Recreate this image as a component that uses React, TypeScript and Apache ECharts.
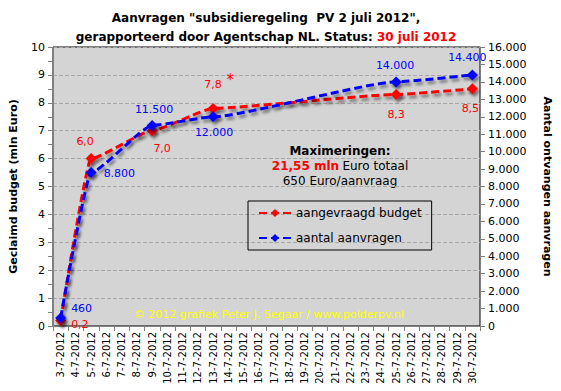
import React, { useEffect, useRef } from 'react';
import * as echarts from 'echarts';

const categories = [
  '3-7-2012', '4-7-2012', '5-7-2012', '6-7-2012', '7-7-2012', '8-7-2012', '9-7-2012',
  '10-7-2012', '11-7-2012', '12-7-2012', '13-7-2012', '14-7-2012', '15-7-2012', '16-7-2012',
  '17-7-2012', '18-7-2012', '19-7-2012', '20-7-2012', '21-7-2012', '22-7-2012', '23-7-2012',
  '24-7-2012', '25-7-2012', '26-7-2012', '27-7-2012', '28-7-2012', '29-7-2012', '30-7-2012',
];
const reportDates = ['3-7-2012', '5-7-2012', '9-7-2012', '13-7-2012', '25-7-2012', '30-7-2012'];
const budgetValues = [0.2, 6.0, 7.0, 7.8, 8.3, 8.5];
const requestValues = [460, 8800, 11500, 12000, 14000, 14400];
const seriesNames = ['aangevraagd budget', 'aantal aanvragen'];

const budgetLabelPlacement: any[] = [
  { position: 'right', offset: [0, 4] },
  { position: 'top', offset: [-6, -1] },
  { position: 'bottom', offset: [10, 2] },
  { position: 'top', offset: [6, -2] },
  { position: 'bottom', offset: [0, 4] },
  { position: 'bottom', offset: [-2, 4] },
];
const requestLabelPlacement: any[] = [
  { position: 'right', offset: [0, -9] },
  { position: 'right', offset: [2, 1] },
  { position: 'top', offset: [2, 0] },
  { position: 'bottom', offset: [1, 0] },
  { position: 'top', offset: [-1, 0] },
  { position: 'top', offset: [-5, -1] },
];

const fmtBudget = (v: number) => v.toFixed(1).replace('.', ',');
const fmtCount = (v: number) => String(Math.round(v)).replace(/\B(?=(\d{3})+(?!\d))/g, '.');

const FONT = 'DejaVu Sans';

export default function App() {
  const ref = useRef<HTMLDivElement>(null);
  useEffect(() => {
    if (!ref.current) return;
    const chart = echarts.init(ref.current, undefined, { renderer: 'svg' });

    const shadow = {
      shadowColor: 'rgba(0,0,0,0.45)',
      shadowBlur: 3,
      shadowOffsetX: 2,
      shadowOffsetY: 3,
    };

    const budgetData = reportDates.map((d, i) => ({
      value: [d, budgetValues[i]],
      label: {
        ...budgetLabelPlacement[i],
        formatter:
          i === 3
            ? fmtBudget(budgetValues[i]) + '{star| *}'
            : fmtBudget(budgetValues[i]),
      },
    }));
    const requestData = reportDates.map((d, i) => ({
      value: [d, requestValues[i]],
      label: { ...requestLabelPlacement[i], formatter: fmtCount(requestValues[i]) },
    }));

    const option: any = {
      animation: false,
      backgroundColor: '#ffffff',
      textStyle: { fontFamily: FONT },
      grid: {
        left: 46,
        right: 74,
        top: 47,
        bottom: 65,
        show: true,
        backgroundColor: '#d4d4d4',
        borderColor: '#000000',
        borderWidth: 1,
      },
      legend: {
        orient: 'vertical',
        left: 248,
        top: 201,
        padding: [6, 10, 6, 10],
        itemGap: 13,
        itemWidth: 32,
        itemHeight: 10,
        borderColor: '#000000',
        borderWidth: 1,
        backgroundColor: 'transparent',
        data: seriesNames,
        textStyle: { fontFamily: FONT, fontSize: 12, color: '#000' },
      },
      xAxis: {
        type: 'category',
        data: categories,
        boundaryGap: true,
        axisLine: { lineStyle: { color: '#808080' } },
        axisTick: { show: true, interval: 0, length: 5, lineStyle: { color: '#808080' } },
        axisLabel: { interval: 0, rotate: 90, fontSize: 10, color: '#000', margin: 6, fontFamily: FONT },
        splitLine: { show: false },
      },
      yAxis: [
        {
          type: 'value',
          min: 0,
          max: 10,
          interval: 1,
          name: 'Geclaimd budget (mln Euro)',
          nameLocation: 'middle',
          nameGap: 34,
          nameTextStyle: { fontWeight: 'bold', fontSize: 11, color: '#000', fontFamily: FONT },
          axisLine: { show: true, lineStyle: { color: '#808080' } },
          axisTick: { show: true, length: 5, lineStyle: { color: '#808080' } },
          minorTick: { show: true, splitNumber: 2, length: 5, lineStyle: { color: '#808080' } },
          axisLabel: { fontSize: 11, color: '#000', margin: 8, fontFamily: FONT },
          splitLine: { show: true, lineStyle: { color: '#a8a8a8', type: 'dashed', width: 1 } },
        },
        {
          type: 'value',
          min: 0,
          max: 16000,
          interval: 1000,
          position: 'right',
          name: 'Aantal ontvangen aanvragen',
          nameLocation: 'middle',
          nameRotate: -90,
          nameGap: 62,
          nameTextStyle: { fontWeight: 'bold', fontSize: 11, color: '#000', fontFamily: FONT },
          axisLine: { show: true, lineStyle: { color: '#808080' } },
          axisTick: { show: true, length: 5, lineStyle: { color: '#808080' } },
          axisLabel: { fontSize: 11, color: '#000', margin: 8, fontFamily: FONT, formatter: fmtCount },
          splitLine: { show: false },
        },
      ],
      series: [
        {
          name: seriesNames[0],
          type: 'line',
          yAxisIndex: 0,
          data: budgetData,
          smooth: 0.15,
          smoothMonotone: 'x',
          symbol: 'diamond',
          symbolSize: 11,
          color: '#ff0000',
          lineStyle: { color: '#ff0000', width: 3, type: [8, 4], ...shadow },
          itemStyle: { color: '#ff0000', ...shadow },
          label: {
            show: true,
            color: '#ff0000',
            fontSize: 11,
            fontFamily: FONT,
            rich: { star: { color: '#ff0000', fontSize: 15, fontFamily: FONT, padding: [0, 0, 8, 0] } },
          },
          z: 3,
        },
        {
          name: seriesNames[1],
          type: 'line',
          yAxisIndex: 1,
          data: requestData,
          smooth: 0.15,
          smoothMonotone: 'x',
          symbol: 'diamond',
          symbolSize: 11,
          color: '#0000ff',
          lineStyle: { color: '#0000ff', width: 3, type: [8, 4], ...shadow },
          itemStyle: { color: '#0000ff', ...shadow },
          label: { show: true, color: '#0000ff', fontSize: 11, fontFamily: FONT },
          z: 4,
        },
      ],
      graphic: [
        {
          type: 'text',
          x: 266,
          y: 8,
          style: {
            text:
              '{b|Aanvragen "subsidieregeling  PV 2 juli 2012",}\n{b|gerapporteerd door Agentschap NL. Status: }{r|30 juli 2012}',
            align: 'center',
            rich: {
              b: { fill: '#000', fontSize: 12, fontWeight: 'bold', fontFamily: FONT, lineHeight: 19 },
              r: { fill: '#ff0000', fontSize: 12, fontWeight: 'bold', fontFamily: FONT, lineHeight: 19 },
            },
          },
        },
        {
          type: 'text',
          x: 340,
          y: 143,
          style: {
            text: '{b|Maximeringen:}\n{r|21,55 mln} {n|Euro totaal}\n{n|650 Euro/aanvraag}',
            align: 'center',
            rich: {
              b: { fill: '#000', fontSize: 12, fontWeight: 'bold', fontFamily: FONT, lineHeight: 15 },
              r: { fill: '#ff0000', fontSize: 12, fontWeight: 'bold', fontFamily: FONT, lineHeight: 15 },
              n: { fill: '#000', fontSize: 12, fontFamily: FONT, lineHeight: 15 },
            },
          },
        },
        {
          type: 'text',
          x: 269,
          y: 309,
          style: {
            text: '\u00a9 2012 grafiek Peter J. Segaar / www.polderpv.nl',
            align: 'center',
            fill: '#ffff00',
            fontSize: 11,
            fontFamily: FONT,
          },
        },
      ],
    };

    chart.setOption(option);
    return () => chart.dispose();
  }, []);

  return <div ref={ref} style={{ width: 561, height: 391, position: 'absolute', left: 0, top: 0 }} />;
}
